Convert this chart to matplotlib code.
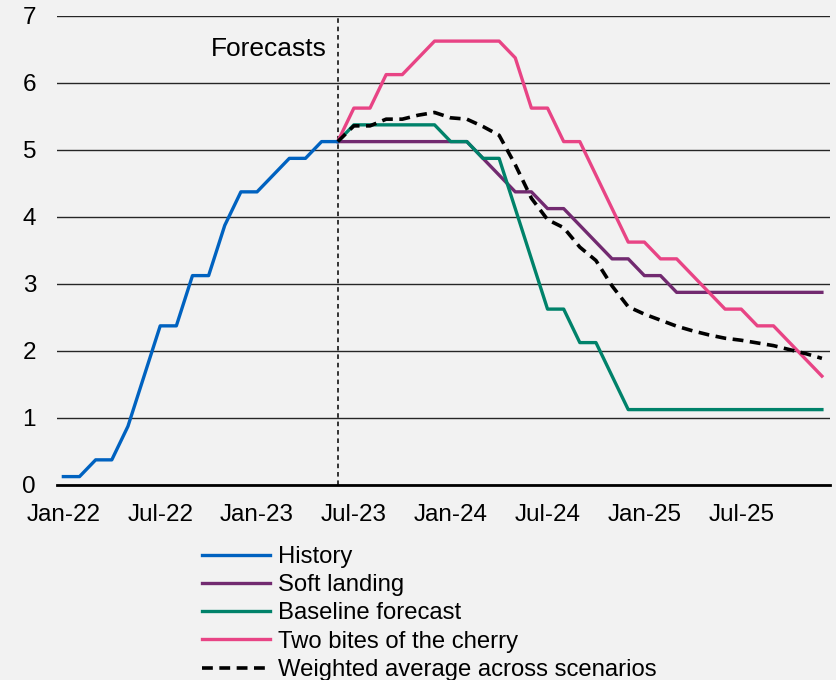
import numpy as np
import matplotlib
matplotlib.use("Agg")
import matplotlib.pyplot as plt

plt.rcParams["font.family"] = ["Liberation Sans", "DejaVu Sans"]

# monthly, Jan-22 .. Dec-25
months = ["Jan-22", "Jul-22", "Jan-23", "Jul-23", "Jan-24", "Jul-24", "Jan-25", "Jul-25"]
n_months = 48
forecast_start = 17  # Jun-23

history = [0.125, 0.125, 0.375, 0.375, 0.875, 1.625, 2.375, 2.375, 3.125, 3.125,
           3.875, 4.375, 4.375, 4.625, 4.875, 4.875, 5.125, 5.125]

soft_landing = [5.125, 5.125, 5.125, 5.125, 5.125, 5.125, 5.125, 5.125, 5.125, 4.875,
                4.625, 4.375, 4.375, 4.125, 4.125, 3.875, 3.625, 3.375, 3.375, 3.125,
                3.125, 2.875, 2.875, 2.875, 2.875, 2.875, 2.875, 2.875, 2.875, 2.875,
                2.875]

baseline = [5.125, 5.375, 5.375, 5.375, 5.375, 5.375, 5.375, 5.125, 5.125, 4.875,
            4.875, 4.125, 3.375, 2.625, 2.625, 2.125, 2.125, 1.625, 1.125, 1.125,
            1.125, 1.125, 1.125, 1.125, 1.125, 1.125, 1.125, 1.125, 1.125, 1.125,
            1.125]

two_bites = [5.125, 5.625, 5.625, 6.125, 6.125, 6.375, 6.625, 6.625, 6.625, 6.625,
             6.625, 6.375, 5.625, 5.625, 5.125, 5.125, 4.625, 4.125, 3.625, 3.625,
             3.375, 3.375, 3.125, 2.875, 2.625, 2.625, 2.375, 2.375, 2.125, 1.875,
             1.625]

weighted = [5.125, 5.36, 5.36, 5.46, 5.46, 5.52, 5.56, 5.48, 5.46, 5.35,
            5.22, 4.78, 4.28, 3.96, 3.84, 3.55, 3.35, 2.97, 2.66, 2.55,
            2.46, 2.37, 2.30, 2.24, 2.19, 2.16, 2.12, 2.08, 2.02, 1.96,
            1.89]

BG = "#f2f2f2"
fig = plt.figure(figsize=(8.37, 6.8), dpi=100, facecolor=BG)
ax = fig.add_axes([0.068, 0.2868, 0.9236, 0.6897], facecolor=BG)

x_hist = np.arange(len(history))
x_fc = np.arange(forecast_start, forecast_start + len(soft_landing))

lw = 2.4
ax.plot(x_hist, history, color="#0062c0", lw=lw, label="History", zorder=5)
ax.plot(x_fc, soft_landing, color="#722a70", lw=lw, label="Soft landing", zorder=3)
ax.plot(x_fc, baseline, color="#00826a", lw=lw, label="Baseline forecast", zorder=4)
ax.plot(x_fc, two_bites, color="#e84485", lw=lw, label="Two bites of the cherry", zorder=4)
ax.plot(x_fc, weighted, color="black", lw=2.6, ls=(0, (3, 1.8)),
        label="Weighted average across scenarios", zorder=6)

ax.axvline(forecast_start, color="black", lw=1.1, ls=(0, (3, 2.5)), zorder=2)
ax.text(forecast_start - 0.7, 6.5, "Forecasts", ha="right", va="center", fontsize=19)

ax.set_xlim(-0.4, 47.5)
ax.set_ylim(0, 7)
ax.set_yticks(range(0, 8))
ax.set_xticks(np.arange(0, n_months, 6))
ax.set_xticklabels(months)
ax.tick_params(axis="both", length=0, labelsize=17.5)
ax.tick_params(axis="x", pad=14)
ax.tick_params(axis="y", pad=15)

ax.grid(axis="y", color="#262626", lw=1.0)
ax.set_axisbelow(True)
for side in ["top", "right", "left"]:
    ax.spines[side].set_visible(False)
ax.spines["bottom"].set_color("black")
ax.spines["bottom"].set_linewidth(2.0)

fig.legend(loc="upper left", bbox_to_anchor=(0.241, 0.197), frameon=False,
           fontsize=17.2, handlelength=2.85, handletextpad=0.33, labelspacing=0.26,
           borderpad=0, borderaxespad=0)

fig.savefig("out.png", dpi=100, facecolor=BG)
